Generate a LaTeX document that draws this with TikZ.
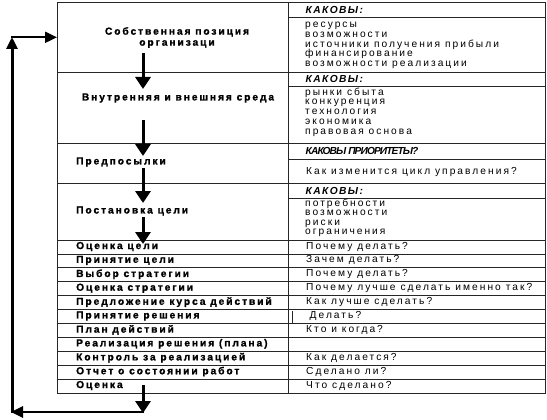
\documentclass[tikz,border=0pt]{standalone}
\usepackage{fontspec}
\setmainfont{Liberation Sans}
\newfontfamily\lsp[LetterSpace=20]{Liberation Sans}
\newfontfamily\lspb[LetterSpace=19,BoldFeatures={FakeBold=1.2}]{Liberation Sans}
\newfontfamily\hsp[LetterSpace=14]{Liberation Sans}
\newfontfamily\csp[LetterSpace=-9]{Liberation Sans}
\usetikzlibrary{arrows.meta}
\begin{document}
\begin{tikzpicture}[x=1pt,y=-1pt,
  grid/.style={draw=black!85,line width=0.8pt},
  lt/.style={font=\lspb\bfseries\fontsize{10.2}{11}\selectfont,inner sep=0pt,anchor=west},
  rt/.style={font=\lsp\fontsize{10.2}{9.8}\selectfont,inner sep=0pt,anchor=west,align=left},
  hd/.style={font=\hsp\bfseries\itshape\fontsize{10.2}{11}\selectfont,inner sep=0pt,anchor=west},
  flow/.style={line width=3pt,-{Triangle[width=15pt,length=12pt]}},
  loopline/.style={line width=2.5pt,-{Triangle[width=11pt,length=12pt]}}]
\useasboundingbox (0,0) rectangle (547,420);
% table frame
\draw[grid] (57,2) rectangle (545,393.3);
\draw[grid] (288,2) -- (288,393.3);
\foreach \yy in {72.5,143,183.5,240,253.9,267.8,281.7,295.6,309.5,323.4,337.3,351.2,365.1,379.0}
  \draw[grid] (57,\yy) -- (545,\yy);
\foreach \yy in {17,86,159,198}
  \draw[grid] (288,\yy) -- (545,\yy);
\draw[grid] (292,311) -- (292,323.4);
% left column, big rows
\node[lt,anchor=center,align=center] (sob) at (177,37.5) {Собственная позиция\\организаци};
\node[lt,anchor=center] (vnu) at (178,98) {Внутренняя и внешняя среда};
\node[lt] (pre) at (76,162) {Предпосылки};
\node[lt] (pos) at (76,211) {Постановка цели};
% right column, big rows
\node[hd] (h1) at (305.5,9.5) {КАКОВЫ:};
\node[rt] (l1) at (305,45.5) {ресурсы\\возможности\\источники получения прибыли\\финансирование\\возможности реализации};
\node[hd] (h2) at (305.5,79) {КАКОВЫ:};
\node[rt] (l2) at (305,112) {рынки сбыта\\конкуренция\\технология\\экономика\\правовая основа};
\node[hd,font=\csp\bfseries\itshape\fontsize{10.2}{11}\selectfont] (h3) at (305.5,150.5) {КАКОВЫ ПРИОРИТЕТЫ?};
\node[rt] (l3) at (306,171.5) {Как изменится цикл управления?};
\node[hd] (h4) at (305.5,191) {КАКОВЫ:};
\node[rt,font=\lsp\fontsize{10.2}{9.4}\selectfont] (l4) at (305,218) {потребности\\возможности\\риски\\ограничения};
% small rows
\foreach \lab [count=\i from 0] in {{Оценка цели},{Принятие цели},{Выбор стратегии},{Оценка стратегии},{Предложение курса действий},{Принятие решения},{План действий},{Реализация решения (плана)},{Контроль за реализацией},{Отчет о состоянии работ},{Оценка}}
  \node[lt] (L\i) at (76,{246.5+13.9*\i}) {\lab};
\foreach \lab [count=\i from 0] in {{Почему делать?},{Зачем делать?},{Почему делать?},{Почему лучше сделать именно так?},{Как лучше сделать?},{},{Кто и когда?},{},{Как делается?},{Сделано ли?},{Что сделано?}}
  \node[rt] (R\i) at (306,{246.5+13.9*\i}) {\lab};
\node[rt] (R5b) at (309.5,{246.5+13.9*5}) {Делать?};
% flow arrows
\coordinate (a1s) at (143,53);  \coordinate (a1e) at (143,89);
\coordinate (a2s) at (143,120); \coordinate (a2e) at (143,156);
\coordinate (a3s) at (143,168); \coordinate (a3e) at (143,203);
\coordinate (a4s) at (143,217); \coordinate (a4e) at (143,244);
\draw[flow] (a1s) -- (a1e);
\draw[flow] (a2s) -- (a2e);
\draw[flow] (a3s) -- (a3e);
\draw[flow] (a4s) -- (a4e);
% feedback loop
\coordinate (b0) at (143,385);
\coordinate (b1) at (143,413);
\coordinate (b2) at (144.2,412);
\coordinate (b3) at (11,412);
\coordinate (b4) at (12,413.2);
\coordinate (b5) at (12,37);
\coordinate (b6) at (11,37.3);
\coordinate (b7) at (57,37.3);
\draw[flow] (b0) -- (b1);
\draw[loopline] (b2) -- (b3);
\draw[loopline,line width=3pt] (b4) -- (b5);
\draw[loopline,line width=2pt] (b6) -- (b7);
\end{tikzpicture}
\end{document}
